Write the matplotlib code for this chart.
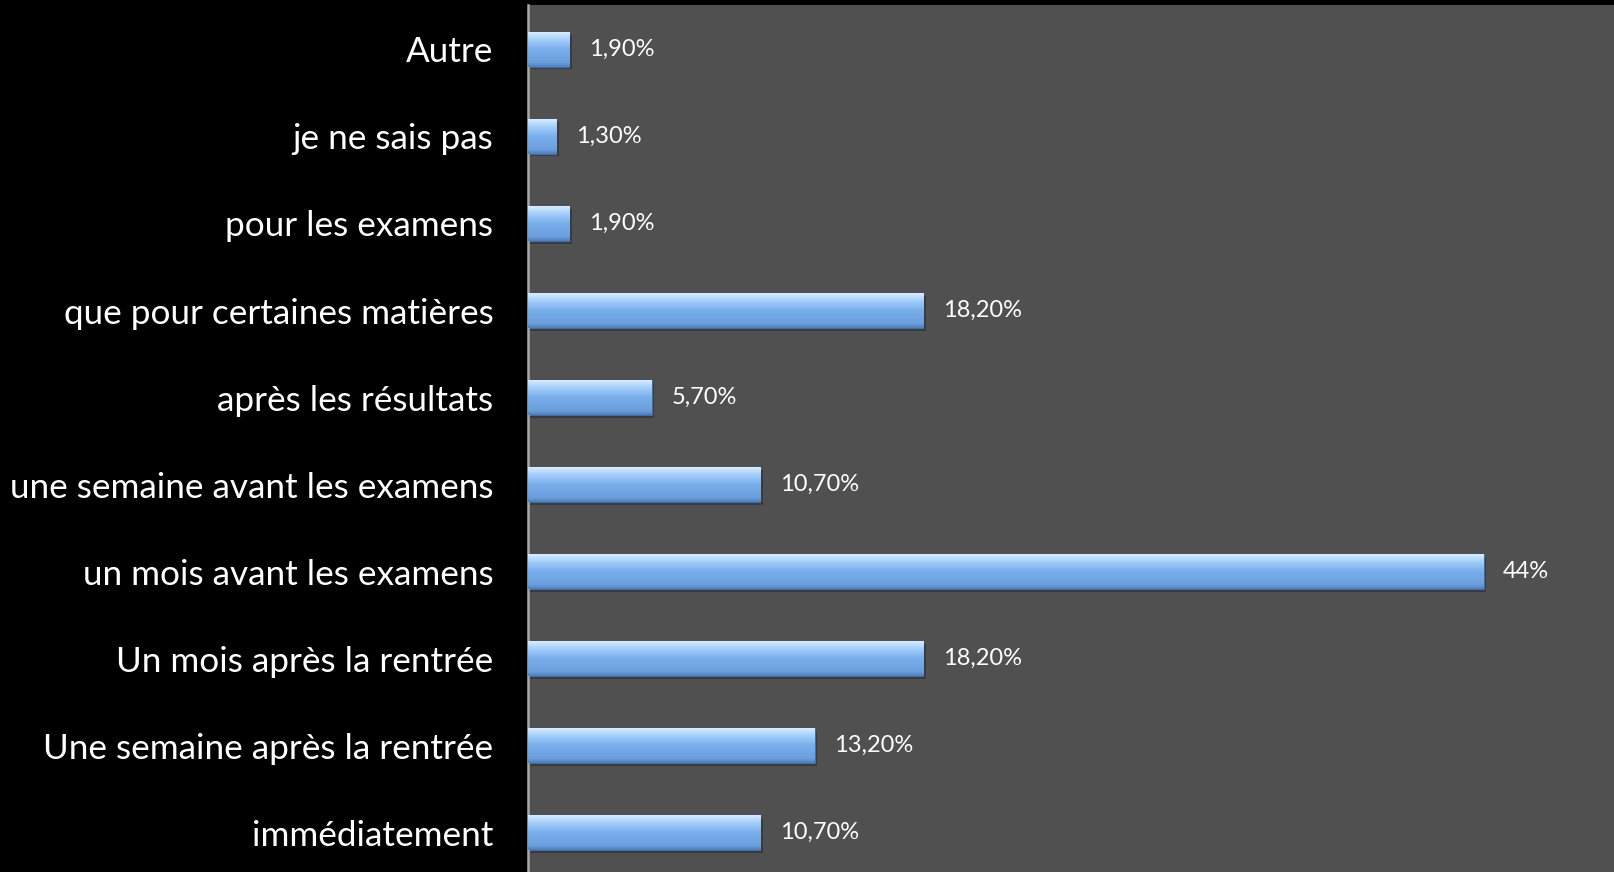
import matplotlib
matplotlib.use("Agg")
import matplotlib.pyplot as plt
import numpy as np
from matplotlib.colors import LinearSegmentedColormap

categories = ["immédiatement", "Une semaine après la rentrée", "Un mois après la rentrée",
              "un mois avant les examens", "une semaine avant les examens", "après les résultats",
              "que pour certaines matières", "pour les examens", "je ne sais pas", "Autre"]
values = [10.7, 13.2, 18.2, 44.0, 10.7, 5.7, 18.2, 1.9, 1.3, 1.9]
value_labels = ["10,70%", "13,20%", "18,20%", "44%", "10,70%", "5,70%", "18,20%", "1,90%", "1,30%", "1,90%"]

plt.rcParams['font.family'] = ['Lato', 'DejaVu Sans']

fig = plt.figure(figsize=(16.14, 8.72), dpi=100, facecolor="black")
ax = fig.add_axes([528/1614, 0, 1 - 528/1614, 1 - 5/872])
ax.set_facecolor("#505050")

h = 0.40
ypos = np.arange(len(categories))
cmap = LinearSegmentedColormap.from_list("bar", [(0, "#4f7fbf"), (0.12, "#6a9fdc"), (0.5, "#78aeec"), (0.8, "#a6d0fb"), (1.0, "#d8ecff")])
grad = np.linspace(0, 1, 64).reshape(-1, 1)
for y, v, lab in zip(ypos, values, value_labels):
    ax.barh(y - 0.03, v + 0.12, height=h, left=0, color="#3a3a3a", zorder=1)
    bars = ax.barh(y, v, height=h, color="#7cb2ee", edgecolor="#3f6ea8", linewidth=0.8, zorder=2)
    im = ax.imshow(grad, cmap=cmap, aspect="auto", extent=[0, v, y - h/2, y + h/2], origin="lower", zorder=3)
    im.set_clip_path(bars[0])
    ax.text(v + 0.9, y, lab, color="white", fontsize=17, va="center", ha="left", zorder=4)

ax.set_xlim(0, 50)
ax.set_ylim(-0.45, 9.51)
ax.set_yticks(ypos)
ax.set_yticklabels(categories, fontsize=25.3, color="white")
ax.tick_params(axis="y", length=0, pad=25)
ax.set_xticks([])
for s in ["top", "right", "bottom"]:
    ax.spines[s].set_visible(False)
ax.spines["left"].set_color("#a8a8a8")
ax.spines["left"].set_linewidth(1.8)

fig.savefig("out.png", dpi=100, facecolor="black")
